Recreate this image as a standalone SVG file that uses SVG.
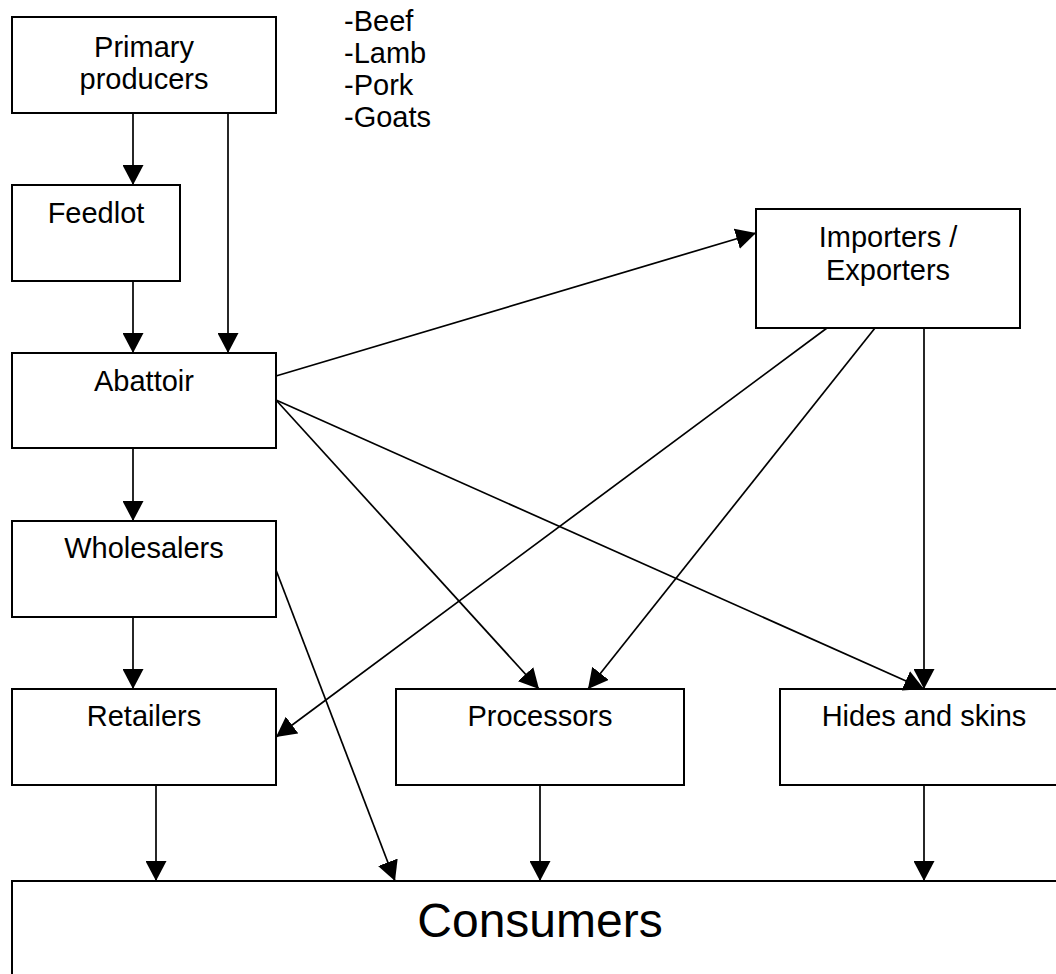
<svg xmlns="http://www.w3.org/2000/svg" width="1056" height="974" viewBox="0 0 1056 974">
<style>
.box{fill:#fff;stroke:#000;stroke-width:2}
.t{font-family:"Liberation Sans",Arial,sans-serif;font-size:29px;fill:#000;text-anchor:middle}
.l{font-family:"Liberation Sans",Arial,sans-serif;font-size:29px;fill:#000}
.big{font-family:"Liberation Sans",Arial,sans-serif;font-size:48px;fill:#000;text-anchor:middle}
.c{stroke:#000;stroke-width:1.7;fill:none;marker-end:url(#ah)}
</style>
<defs>
<marker id="ah" markerUnits="userSpaceOnUse" markerWidth="20" markerHeight="21" refX="20" refY="10.5" orient="auto">
<path d="M0,0 L20,10.5 L0,21 z" fill="#000"/>
</marker>
</defs>
<rect width="1056" height="974" fill="#fff"/>
<g id="n-primary"><rect class="box" x="12" y="17" width="264" height="96"/><text class="t" x="144" y="57">Primary</text><text class="t" x="144" y="89">producers</text></g>
<g id="n-list"><text class="l" x="344" y="31">-Beef</text><text class="l" x="344" y="63">-Lamb</text><text class="l" x="344" y="95">-Pork</text><text class="l" x="344" y="127">-Goats</text></g>
<g id="n-feedlot"><rect class="box" x="12" y="185" width="168" height="96"/><text class="t" x="96" y="223">Feedlot</text></g>
<g id="n-abattoir"><rect class="box" x="12" y="353" width="264" height="95"/><text class="t" x="144" y="391">Abattoir</text></g>
<g id="n-importers"><rect class="box" x="756" y="209" width="264" height="119"/><text class="t" x="888" y="247">Importers /</text><text class="t" x="888" y="280">Exporters</text></g>
<g id="n-wholesalers"><rect class="box" x="12" y="521" width="264" height="96"/><text class="t" x="144" y="558">Wholesalers</text></g>
<g id="n-retailers"><rect class="box" x="12" y="689" width="264" height="96"/><text class="t" x="144" y="726">Retailers</text></g>
<g id="n-processors"><rect class="box" x="396" y="689" width="288" height="96"/><text class="t" x="540" y="726">Processors</text></g>
<g id="n-hides"><rect class="box" x="780" y="689" width="288" height="96"/><text class="t" x="924" y="726">Hides and skins</text></g>
<g id="n-consumers"><rect class="box" x="12" y="881" width="1056" height="120"/><text class="big" x="540" y="937">Consumers</text></g>
<g id="connectors">
<line class="c" x1="133" y1="113" x2="133" y2="185"/>
<line class="c" x1="228" y1="113" x2="228" y2="353"/>
<line class="c" x1="133" y1="281" x2="133" y2="353"/>
<line class="c" x1="133" y1="448" x2="133" y2="521"/>
<line class="c" x1="133" y1="617" x2="133" y2="689"/>
<line class="c" x1="276" y1="376" x2="756" y2="233"/>
<line class="c" x1="276" y1="400" x2="539" y2="689"/>
<line class="c" x1="276" y1="400" x2="924" y2="689"/>
<line class="c" x1="827" y1="328" x2="276" y2="737"/>
<line class="c" x1="875" y1="328" x2="588" y2="689"/>
<line class="c" x1="924" y1="328" x2="924" y2="689"/>
<line class="c" x1="276" y1="570" x2="395" y2="881"/>
<line class="c" x1="156" y1="785" x2="156" y2="881"/>
<line class="c" x1="540" y1="785" x2="540" y2="881"/>
<line class="c" x1="924" y1="785" x2="924" y2="881"/>
</g>
</svg>
